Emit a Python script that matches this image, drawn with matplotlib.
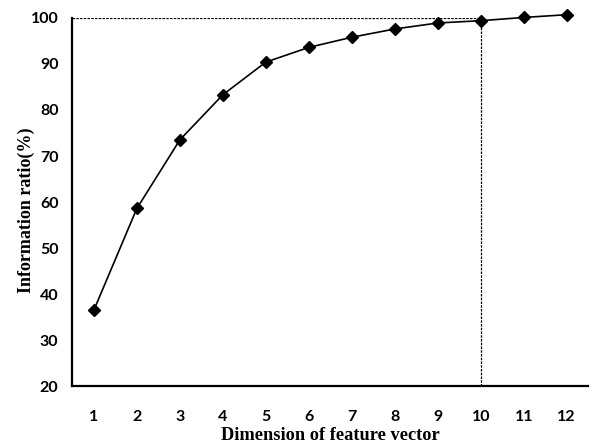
import matplotlib
matplotlib.use('Agg')
import matplotlib.pyplot as plt

# datos
dimension = [1, 2, 3, 4, 5, 6, 7, 8, 9, 10, 11, 12]
ratio = [36.5, 58.6, 73.5, 83.3, 90.4, 93.6, 95.8, 97.6, 98.9, 99.4, 100.1, 100.7]
y_ticks = [20, 30, 40, 50, 60, 70, 80, 90, 100]
corte = 10

fig = plt.figure(figsize=(5.93, 4.48), dpi=100)
ax = fig.add_axes([0.122, 0.138, 0.870, 0.822])

# lineas punteadas de referencia
ax.plot([0.5, corte], [100, 100], color='black', linestyle=(0, (2, 1)), linewidth=0.9)
ax.plot([corte, corte], [20, ratio[corte - 1]], color='black', linestyle=(0, (2, 1)), linewidth=0.9)

# curva principal
ax.plot(dimension, ratio, color='black', linewidth=1.2, marker='D', markersize=6.5, clip_on=False, zorder=3)

ax.set_xlim(0.5, 12.5)
ax.set_ylim(20, 100)
ax.set_xticks(dimension)
ax.set_yticks(y_ticks)

# solo ejes izquierdo e inferior
ax.spines['top'].set_visible(False)
ax.spines['right'].set_visible(False)
ax.spines['left'].set_linewidth(1.6)
ax.spines['bottom'].set_linewidth(1.6)
ax.tick_params(length=0, labelsize=11.5, pad=10)
ax.tick_params(axis='x', pad=17)
for lbl in ax.get_xticklabels() + ax.get_yticklabels():
    lbl.set_family('Lato')
    lbl.set_weight('bold')

ax.set_xlabel('Dimension of feature vector', family='Liberation Serif', weight='bold', fontsize=13.2, labelpad=2)
ax.set_ylabel('Information ratio(%)', family='Liberation Serif', weight='bold', fontsize=13)
ax.yaxis.set_label_coords(-0.072, 0.477)

fig.savefig('out.png')
